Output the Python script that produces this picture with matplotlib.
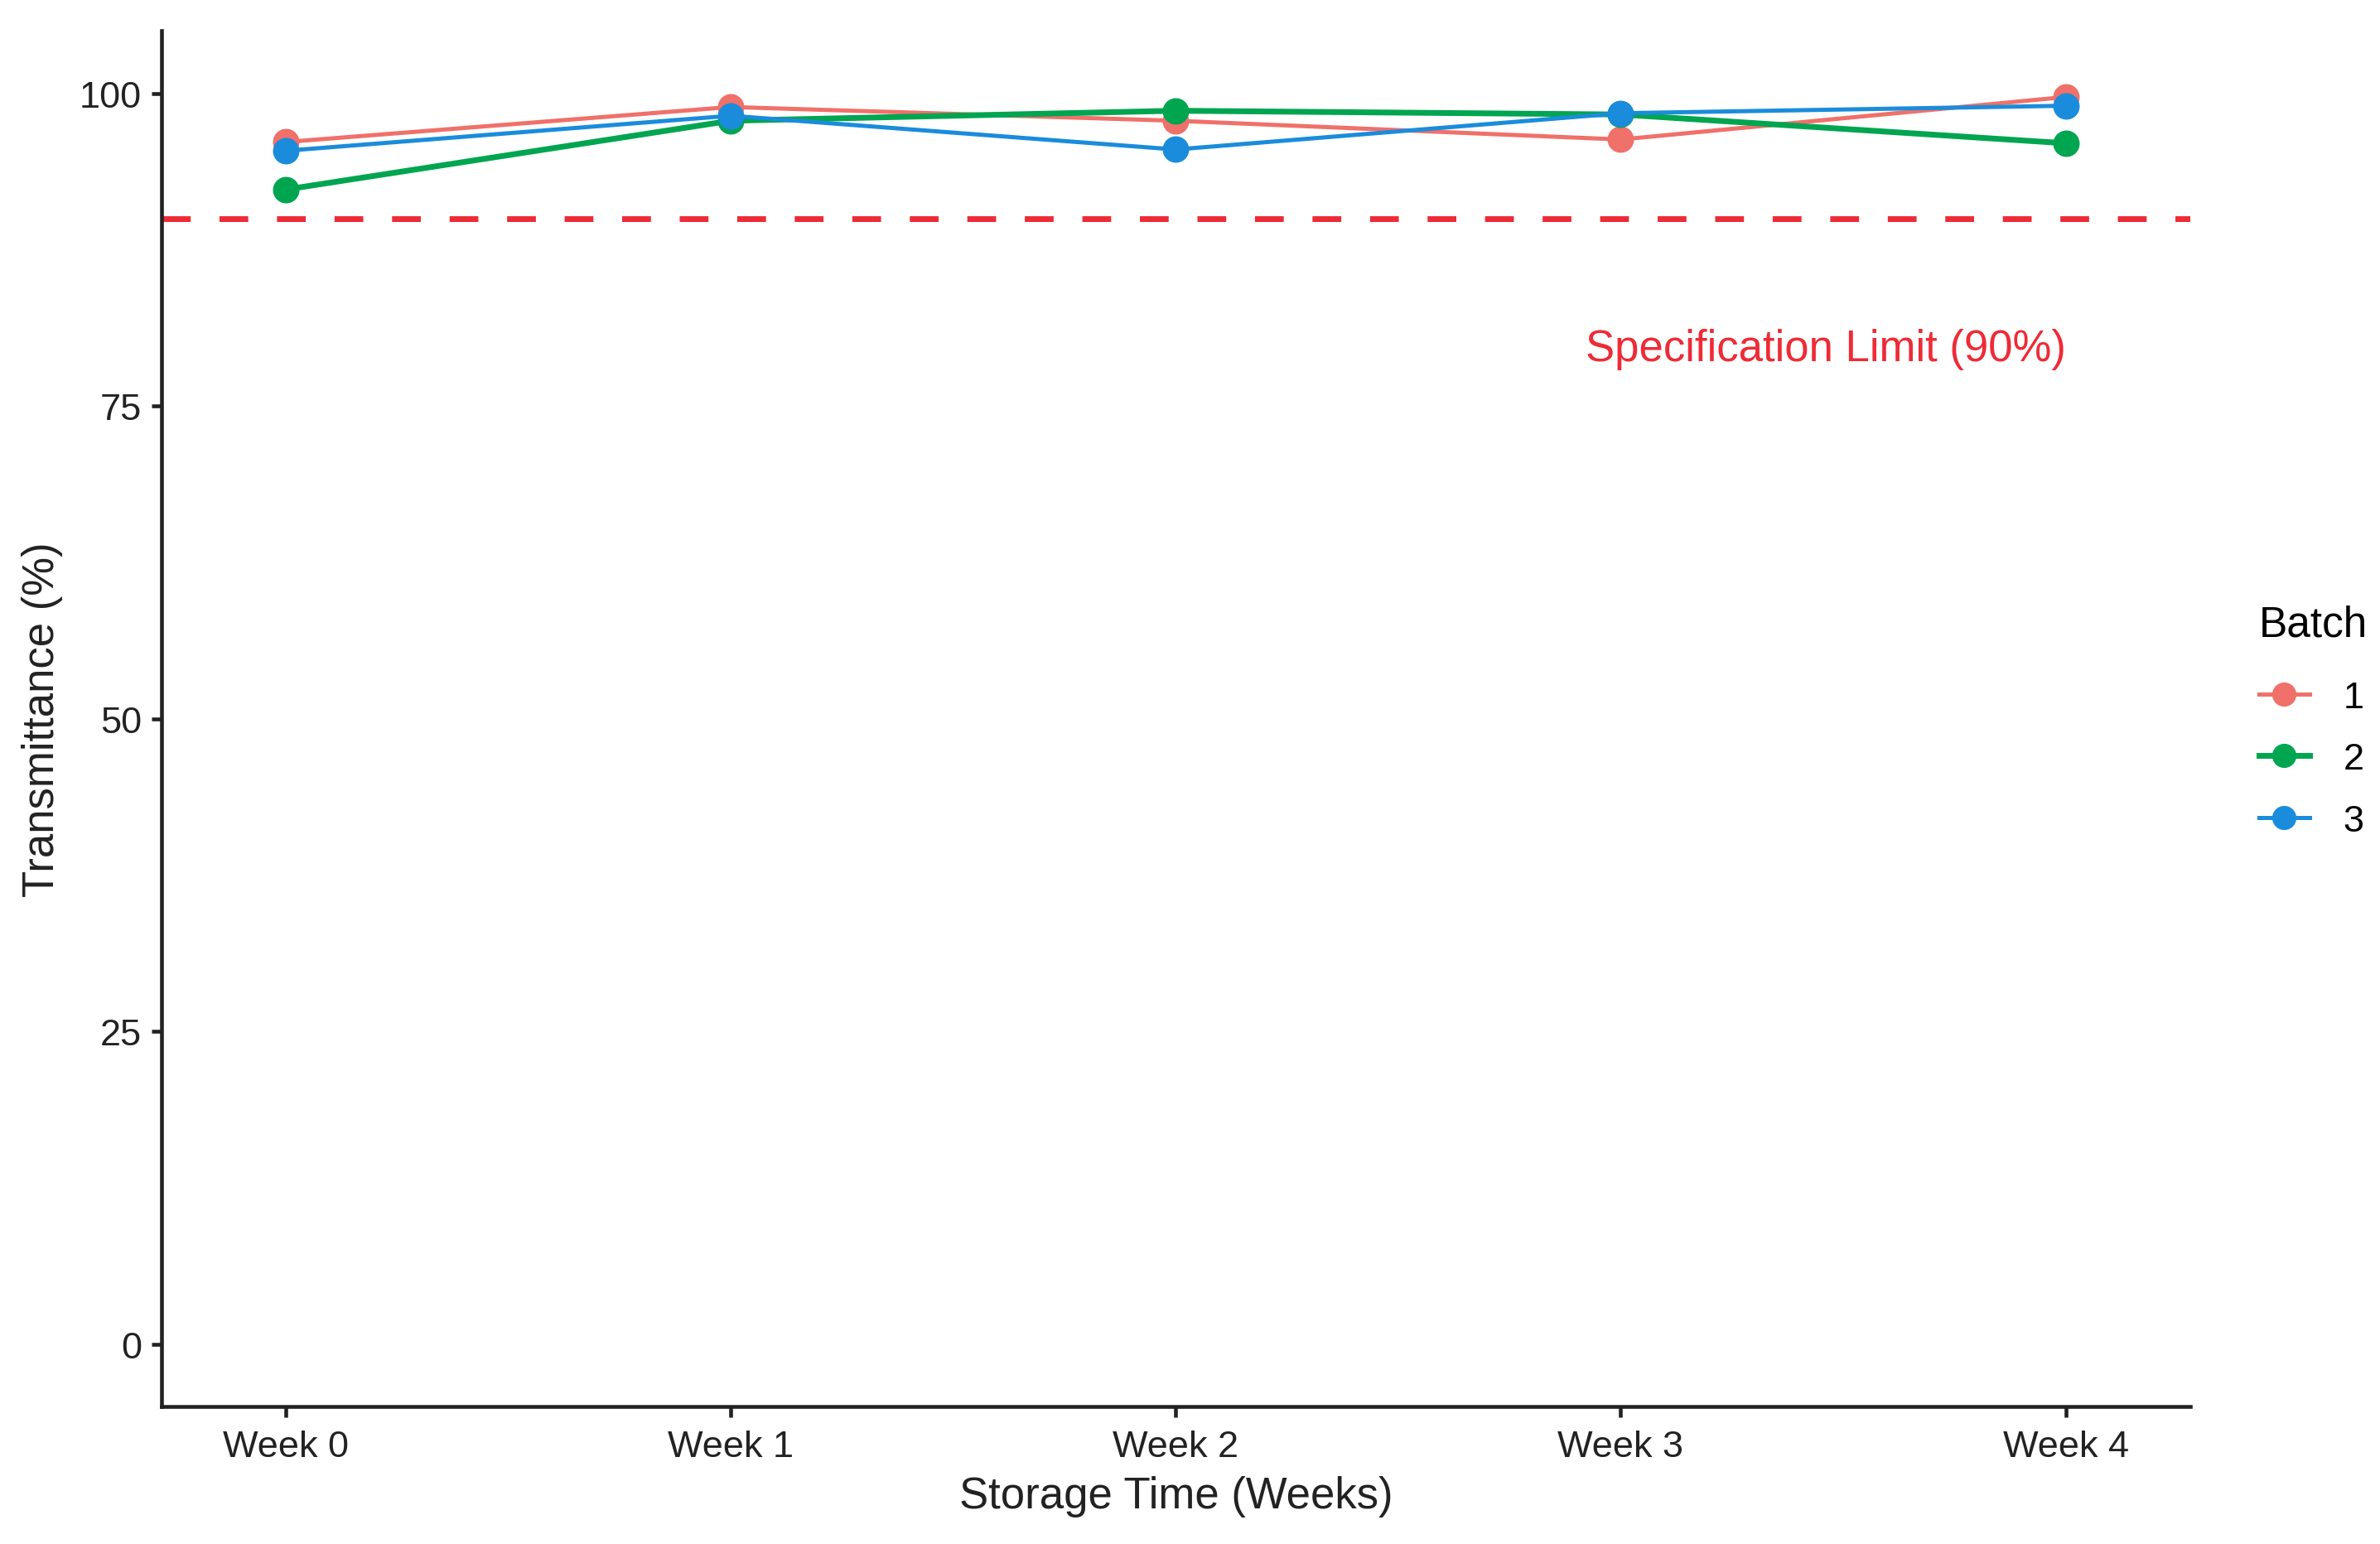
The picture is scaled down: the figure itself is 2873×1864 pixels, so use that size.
import matplotlib
matplotlib.use("Agg")
import matplotlib.pyplot as plt
from matplotlib.lines import Line2D

plt.rcParams['font.family'] = ['Liberation Sans', 'DejaVu Sans']

weeks = ["Week 0", "Week 1", "Week 2", "Week 3", "Week 4"]
batches = ["1", "2", "3"]
batch1 = [96.1, 98.9, 97.8, 96.3, 99.7]
batch2 = [92.3, 97.8, 98.6, 98.3, 96.0]
batch3 = [95.4, 98.2, 95.5, 98.4, 99.0]
spec_limit = 90
spec_label = "Specification Limit (90%)"
yticks = [0, 25, 50, 75, 100]

colors = ["#F0706A", "#00A550", "#1A8CDB"]
widths = [3.6, 5.0, 3.6]

fig = plt.figure(figsize=(28.73, 18.65), dpi=100)
ax = fig.add_axes([0.0677, 0.0890, 0.9203 - 0.0677, 0.9796 - 0.0890])

x = list(range(len(weeks)))
series = [batch1, batch2, batch3]
handles = []
for vals, c, lw, lab in zip(series, colors, widths, batches):
    ax.plot(x, vals, color=c, lw=lw, solid_capstyle='butt')
    ax.plot(x, vals, linestyle='none', marker='o', markersize=22,
            markerfacecolor=c, markeredgecolor=c)
    handles.append(Line2D([0], [0], color=c, lw=lw, marker='o', markersize=20,
                          markerfacecolor=c, markeredgecolor=c))

ax.axhline(spec_limit, color='#EE2B36', lw=5, linestyle=(0, (5, 5)))
ax.text(4, 79.6, spec_label, color='#EE2B36', fontsize=38, ha='right', va='center')

ax.set_xlim(-0.28, 4.28)
ax.set_ylim(-5, 105)
ax.set_xticks(x)
ax.set_xticklabels(weeks)
ax.set_yticks(yticks)
ax.tick_params(axis='both', labelsize=32.5, width=3.3, length=9, color='#222222',
               labelcolor='#222222')
ax.tick_params(axis='x', pad=11)
ax.tick_params(axis='y', pad=8)
for s in ['top', 'right']:
    ax.spines[s].set_visible(False)
for s in ['left', 'bottom']:
    ax.spines[s].set_linewidth(3.3)
    ax.spines[s].set_color('#222222')

ax.set_xlabel("Storage Time (Weeks)", fontsize=38, color='#222222', labelpad=10)
ax.set_ylabel("Transmittance (%)", fontsize=38, color='#222222', labelpad=14)

leg = fig.legend(handles, batches, title="Batch", loc='upper left',
                 bbox_to_anchor=(0.935, 0.630), frameon=False, fontsize=32.5,
                 title_fontsize=37, handlelength=1.35, labelspacing=0.74,
                 handletextpad=0.9, alignment='left')
leg._legend_box.sep = 31

fig.savefig("out.png", dpi=100)
